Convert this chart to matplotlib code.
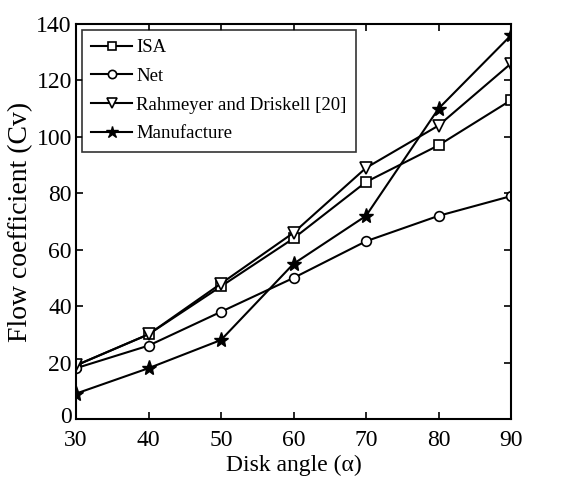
import matplotlib
matplotlib.use('Agg')
import matplotlib.pyplot as plt
import matplotlib.transforms as mtransforms

plt.rcParams['font.family'] = ['Liberation Serif', 'DejaVu Serif']

angle = [30, 40, 50, 60, 70, 80, 90]
isa = [19, 30, 47, 64, 84, 97, 113]
net = [18, 26, 38, 50, 63, 72, 79]
rahmeyer = [19, 30, 48, 66, 89, 104, 126]
manufacture = [9, 18, 28, 55, 72, 110, 136]

fig = plt.figure(figsize=(5.64, 4.8), dpi=100)
ax = fig.add_axes([76/564, 61/480, 435/564, 395/480])

kw = dict(color='black', linewidth=1.5, markerfacecolor='white', markeredgecolor='black', markeredgewidth=1.2)
ax.plot(angle, isa, marker='s', markersize=7, label='ISA', **kw)
ax.plot(angle, net, marker='o', markersize=7, label='Net', **kw)
ax.plot(angle, rahmeyer, marker='v', markersize=8, label='Rahmeyer and Driskell [20]', **kw)
ax.plot(angle, manufacture, marker='*', markersize=11, color='black', linewidth=1.5,
        markerfacecolor='black', markeredgecolor='black', label='Manufacture')

ax.set_xlim(30, 90)
ax.set_ylim(0, 140)
ax.set_xticks(angle)
ax.set_yticks(range(0, 141, 20))
ax.tick_params(direction='in', top=True, right=True, labelsize=17, length=5, width=1.2)
ax.tick_params(axis='y', pad=3)
ax.tick_params(axis='x', pad=8)
for s in ax.spines.values():
    s.set_linewidth(1.5)

# nudge the "0" label up a little so it clears the "30"
lbl0 = ax.get_yticklabels()[0]
lbl0.set_transform(lbl0.get_transform() + mtransforms.ScaledTranslation(0, 4/100, fig.dpi_scale_trans))

ax.set_xlabel('Disk angle (\u03b1)', fontsize=17, labelpad=3)
ax.set_ylabel('Flow coefficient (Cv)', fontsize=20, labelpad=2)

leg = ax.legend(loc='upper left', fontsize=13.5, frameon=True, fancybox=False, edgecolor='black',
                borderaxespad=0.3, handlelength=2.2, handletextpad=0.2, labelspacing=0.62,
                borderpad=0.5, markerscale=0.85)
leg.get_frame().set_linewidth(1.2)

fig.savefig('out.png', dpi=100)
